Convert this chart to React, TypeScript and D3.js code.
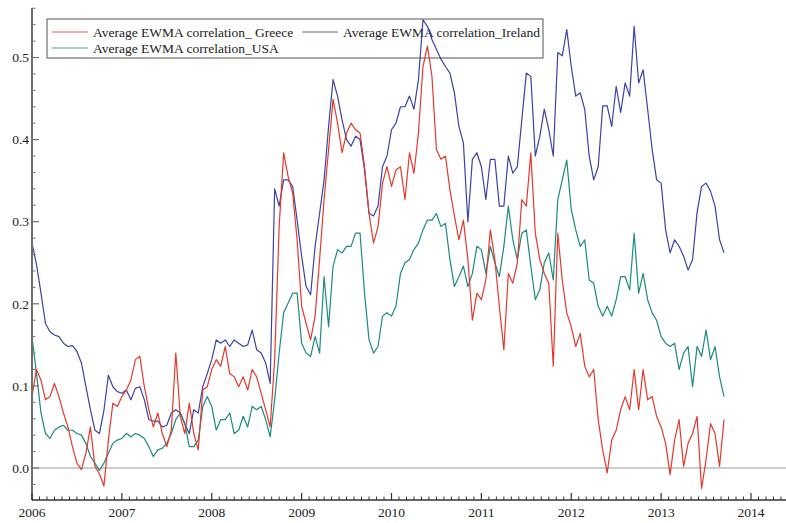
import React from 'react';
import * as d3 from 'd3';

// Sampling: one value every 0.05 year starting at 2006.00
const START_YEAR = 2006;
const STEP_YEARS = 0.05;

const greece = [
  0.087, 0.12, 0.107, 0.083, 0.087, 0.103, 0.087, 0.067, 0.05, 0.026,
  0.006, -0.002, 0.018, 0.05, 0.002, -0.007, -0.022, 0.034, 0.079, 0.075,
  0.087, 0.095, 0.107, 0.132, 0.136, 0.099, 0.071, 0.05, 0.067, 0.042,
  0.026, 0.046, 0.14, 0.063, 0.042, 0.079, 0.042, 0.022, 0.095, 0.099,
  0.12, 0.132, 0.124, 0.148, 0.115, 0.111, 0.099, 0.111, 0.095, 0.12,
  0.111, 0.091, 0.071, 0.05, 0.132, 0.294, 0.384, 0.355, 0.335, 0.278,
  0.197, 0.176, 0.156, 0.185, 0.254, 0.327, 0.388, 0.449, 0.42, 0.384,
  0.408, 0.42, 0.412, 0.408, 0.367, 0.31, 0.274, 0.294, 0.347, 0.367,
  0.343, 0.363, 0.367, 0.327, 0.384, 0.359, 0.408, 0.489, 0.514, 0.477,
  0.388, 0.376, 0.38, 0.339, 0.307, 0.278, 0.302, 0.254, 0.18, 0.213,
  0.205, 0.229, 0.29, 0.254, 0.197, 0.144, 0.237, 0.225, 0.25, 0.327,
  0.319, 0.384, 0.286, 0.254, 0.237, 0.225, 0.124, 0.286, 0.229, 0.189,
  0.172, 0.148, 0.164, 0.124, 0.111, 0.12, 0.059, 0.022, -0.006, 0.034,
  0.046, 0.071, 0.087, 0.071, 0.12, 0.071, 0.12, 0.083, 0.087, 0.063,
  0.05, 0.03, -0.008, 0.034, 0.059, 0.002, 0.03, 0.042, 0.063, -0.025,
  0.01, 0.054, 0.042, 0.002, 0.059,
];

const ireland = [
  0.274, 0.248, 0.213, 0.176, 0.166, 0.162, 0.16, 0.152, 0.148, 0.149,
  0.142, 0.128, 0.099, 0.071, 0.046, 0.042, 0.07, 0.113, 0.099, 0.093,
  0.091, 0.095, 0.083, 0.097, 0.099, 0.083, 0.059, 0.057, 0.057, 0.05,
  0.052, 0.067, 0.071, 0.067, 0.054, 0.042, 0.071, 0.067, 0.099, 0.115,
  0.132, 0.156, 0.152, 0.156, 0.148, 0.156, 0.152, 0.148, 0.15, 0.168,
  0.144, 0.14, 0.128, 0.103, 0.34, 0.319, 0.351, 0.351, 0.343, 0.302,
  0.258, 0.221, 0.211, 0.27, 0.31, 0.351, 0.416, 0.473, 0.453, 0.424,
  0.4, 0.392, 0.404, 0.4, 0.363, 0.31, 0.307, 0.319, 0.367, 0.38,
  0.412, 0.42, 0.44, 0.44, 0.453, 0.437, 0.473, 0.546, 0.538, 0.522,
  0.51, 0.498, 0.489, 0.481, 0.457, 0.416, 0.396, 0.3, 0.376, 0.384,
  0.367, 0.327, 0.376, 0.376, 0.319, 0.319, 0.38, 0.359, 0.367, 0.424,
  0.481, 0.477, 0.38, 0.404, 0.437, 0.412, 0.38, 0.506, 0.502, 0.534,
  0.489, 0.453, 0.457, 0.437, 0.38, 0.351, 0.367, 0.441, 0.441, 0.416,
  0.465, 0.433, 0.469, 0.453, 0.538, 0.469, 0.485, 0.437, 0.388, 0.351,
  0.347, 0.29, 0.262, 0.278, 0.27, 0.258, 0.241, 0.254, 0.311, 0.343,
  0.347, 0.337, 0.319, 0.278, 0.262,
];

const usa = [
  0.16, 0.115, 0.067, 0.042, 0.036, 0.046, 0.05, 0.052, 0.046, 0.046,
  0.042, 0.04, 0.03, 0.014, 0.006, -0.003, 0.006, 0.018, 0.03, 0.034,
  0.036, 0.042, 0.038, 0.042, 0.04, 0.036, 0.026, 0.014, 0.022, 0.024,
  0.03, 0.042, 0.059, 0.067, 0.054, 0.026, 0.026, 0.034, 0.075, 0.087,
  0.075, 0.046, 0.059, 0.059, 0.067, 0.042, 0.046, 0.063, 0.05, 0.075,
  0.071, 0.075, 0.059, 0.038, 0.083, 0.14, 0.189, 0.201, 0.213, 0.213,
  0.152, 0.14, 0.136, 0.16, 0.14, 0.233, 0.172, 0.246, 0.266, 0.262,
  0.27, 0.27, 0.286, 0.286, 0.213, 0.156, 0.14, 0.148, 0.185, 0.189,
  0.185, 0.197, 0.237, 0.25, 0.254, 0.266, 0.274, 0.29, 0.302, 0.302,
  0.31, 0.294, 0.298, 0.254, 0.221, 0.233, 0.246, 0.221, 0.237, 0.27,
  0.266, 0.237, 0.27, 0.25, 0.233, 0.27, 0.319, 0.278, 0.254, 0.286,
  0.29, 0.246, 0.205, 0.217, 0.25, 0.262, 0.229, 0.327, 0.351, 0.375,
  0.315, 0.29, 0.27, 0.278, 0.229, 0.225, 0.197, 0.185, 0.197, 0.185,
  0.205, 0.233, 0.233, 0.217, 0.286, 0.213, 0.237, 0.205, 0.189, 0.18,
  0.16, 0.152, 0.148, 0.152, 0.12, 0.14, 0.148, 0.099, 0.148, 0.136,
  0.168, 0.132, 0.148, 0.111, 0.087,
];

const yearTicks = [2006, 2007, 2008, 2009, 2010, 2011, 2012, 2013, 2014];
const yTickValues = [0.0, 0.1, 0.2, 0.3, 0.4, 0.5];
const yTickLabels = ['0.0', '0.1', '0.2', '0.3', '0.4', '0.5'];

const seriesNames = [
  'Average EWMA correlation_ Greece',
  'Average EWMA correlation_Ireland',
  'Average EWMA correlation_USA',
];
const seriesColors = ['#e5382c', '#3a43a6', '#1b8a82'];

const W = 786;
const H = 523;
const LEFT = 32;
const RIGHT = 786;
const TOP = 8;
const BOTTOM = 500;
const FONT = '"Liberation Serif", "Times New Roman", serif';

export default function App() {
  const x = d3.scaleLinear().domain([2006, 2014]).range([LEFT, 751]);
  const y = d3.scaleLinear().domain([0, 0.5]).range([468, 57.5]);

  const line = d3
    .line<number>()
    .x((_, i) => x(START_YEAR + i * STEP_YEARS))
    .y((d) => y(d));

  const series = [
    { name: seriesNames[1], values: ireland, color: seriesColors[1] },
    { name: seriesNames[2], values: usa, color: seriesColors[2] },
    { name: seriesNames[0], values: greece, color: seriesColors[0] },
  ];

  const minorX: number[] = [];
  for (let yr = 2006; yr <= 2014; yr++) {
    for (let m = 1; m < 12; m++) {
      const v = yr + m / 12;
      if (x(v) <= RIGHT) minorX.push(v);
    }
  }
  const minorY: number[] = [];
  for (let k = -2; k <= 56; k += 2) {
    if (k % 10 === 0) continue;
    const v = k / 100;
    if (y(v) >= TOP && y(v) <= BOTTOM) minorY.push(v);
  }

  return (
    <svg
      width={W}
      height={H}
      style={{ position: 'absolute', left: 0, top: 0, background: '#fff' }}
    >
      <rect x={0} y={0} width={W} height={H} fill="#fff" />

      {/* legend (drawn beneath the lines, as in the reference) */}
      <rect x={47} y={19} width={496} height={39} fill="#fff" stroke="#555" strokeWidth={1} />
      {[
        { idx: 0, lx: 52, ly: 32 },
        { idx: 1, lx: 302, ly: 32 },
        { idx: 2, lx: 52, ly: 48 },
      ].map(({ idx, lx, ly }) => (
        <g key={'lg' + idx}>
          <line x1={lx} x2={lx + 36} y1={ly} y2={ly} stroke={seriesColors[idx]} strokeWidth={1.1} opacity={0.8} />
          <text x={lx + 41} y={ly} dy="0.35em" fontFamily={FONT} fontSize={13.5} fill="#222">
            {seriesNames[idx]}
          </text>
        </g>
      ))}

      {/* zero line */}
      <line x1={LEFT} x2={RIGHT} y1={y(0)} y2={y(0)} stroke="#bdbdbd" strokeWidth={1.5} />

      {/* series */}
      {series.map((s) => (
        <path
          key={s.name}
          d={line(s.values) || ''}
          fill="none"
          stroke={s.color}
          strokeWidth={1.2}
          strokeLinejoin="round"
        />
      ))}

      {/* y axis */}
      <line x1={LEFT} x2={LEFT} y1={TOP} y2={BOTTOM} stroke="#707070" strokeWidth={2} />
      {yTickValues.map((v, i) => (
        <g key={'yt' + i}>
          <line x1={LEFT} x2={LEFT + 7} y1={y(v)} y2={y(v)} stroke="#707070" strokeWidth={1.2} />
          <text
            x={LEFT - 3}
            y={y(v)}
            dy="0.35em"
            textAnchor="end"
            fontFamily={FONT}
            fontSize={13.5}
            fill="#222"
          >
            {yTickLabels[i]}
          </text>
        </g>
      ))}
      {minorY.map((v, i) => (
        <line key={'ym' + i} x1={LEFT} x2={LEFT + 3.5} y1={y(v)} y2={y(v)} stroke="#707070" strokeWidth={1} />
      ))}

      {/* x axis */}
      <line x1={LEFT} x2={RIGHT} y1={BOTTOM} y2={BOTTOM} stroke="#333" strokeWidth={1.5} />
      {yearTicks.map((yr) => (
        <g key={'xt' + yr}>
          <line x1={x(yr)} x2={x(yr)} y1={BOTTOM} y2={BOTTOM - 7} stroke="#333" strokeWidth={1.2} />
          <text
            x={x(yr)}
            y={517}
            textAnchor="middle"
            fontFamily={FONT}
            fontSize={13.5}
            fill="#222"
          >
            {String(yr)}
          </text>
        </g>
      ))}
      {minorX.map((v, i) => (
        <line key={'xm' + i} x1={x(v)} x2={x(v)} y1={BOTTOM} y2={BOTTOM - 3.5} stroke="#333" strokeWidth={1} />
      ))}
    </svg>
  );
}
